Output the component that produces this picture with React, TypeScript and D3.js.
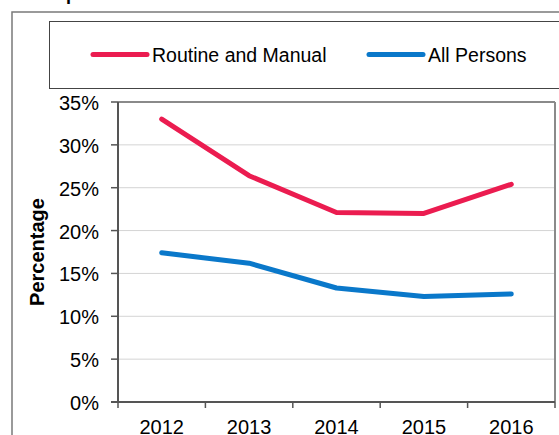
import React from "react";
import * as d3 from "d3";

const years = ["2012", "2013", "2014", "2015", "2016"];
const routineManual = [33.0, 26.4, 22.1, 22.0, 25.4];
const allPersons = [17.4, 16.2, 13.3, 12.3, 12.6];
const yTicks = [0, 5, 10, 15, 20, 25, 30, 35];
const seriesNames = ["Routine and Manual", "All Persons"];
const seriesColors = ["#EB1C50", "#0A78CA"];
const titleText = "Comparison";

const W = 559;
const H = 435;
const plot = { left: 118, right: 555, top: 102, bottom: 402 };
const FONT = "Arial, 'Liberation Sans', sans-serif";

export default function App() {
  const x = d3.scalePoint<string>().domain(years).range([plot.left, plot.right]).padding(0.5);
  const step = x.step();
  const y = d3.scaleLinear().domain([0, 35]).range([plot.bottom, plot.top]);
  const line = d3
    .line<number>()
    .x((_, i) => x(years[i]) as number)
    .y((d) => y(d));
  const series = [routineManual, allPersons];
  const boundaries = d3.range(years.length + 1).map((i) => plot.left + i * step);

  return (
    <svg
      width={W}
      height={H}
      style={{ position: "absolute", left: 0, top: 0, display: "block", background: "#fff" }}
      fontFamily={FONT}
    >
      <rect x={0} y={0} width={W} height={H} fill="#fff" />
      {/* title, cut off above */}
      <text x={26} y={0} fontSize={18} fontWeight="bold" fill="#000">
        {titleText}
      </text>
      {/* outer frame */}
      <rect x={12} y={12} width={W} height={H} fill="none" stroke="#7a7a7a" strokeWidth={1.5} />
      {/* legend box */}
      <rect x={49.5} y={21.5} width={W} height={67} fill="#fff" stroke="#444" strokeWidth={1} />
      {seriesNames.map((name, i) => {
        const lx = i === 0 ? 93 : 369;
        return (
          <g key={name}>
            <line x1={lx} x2={lx + 54} y1={54.5} y2={54.5} stroke={seriesColors[i]} strokeWidth={5} strokeLinecap="round" />
            <text x={lx + 59} y={61.5} fontSize={19.5} fill="#000">
              {name}
            </text>
          </g>
        );
      })}
      {/* gridlines */}
      {yTicks
        .filter((t) => t > 0 && t < 35)
        .map((t) => (
          <line key={t} x1={plot.left} x2={plot.right} y1={y(t)} y2={y(t)} stroke="#d4d4d4" strokeWidth={1} />
        ))}
      {/* plot border top/right */}
      <line x1={plot.left} x2={plot.right} y1={plot.top} y2={plot.top} stroke="#8a8a8a" strokeWidth={2} />
      <line x1={plot.right} x2={plot.right} y1={plot.top} y2={plot.bottom} stroke="#8a8a8a" strokeWidth={2} />
      {/* data lines */}
      {series.map((s, i) => (
        <path
          key={i}
          d={line(s) as string}
          fill="none"
          stroke={seriesColors[i]}
          strokeWidth={5}
          strokeLinecap="round"
          strokeLinejoin="round"
        />
      ))}
      {/* y axis */}
      <line x1={plot.left} x2={plot.left} y1={plot.top} y2={plot.bottom} stroke="#555" strokeWidth={2} />
      {yTicks.map((t) => (
        <g key={t}>
          <line x1={plot.left - 7} x2={plot.left} y1={y(t)} y2={y(t)} stroke="#555" strokeWidth={1.5} />
          <text x={99} y={y(t) + 8} fontSize={20} textAnchor="end" fill="#000">
            {`${t}%`}
          </text>
        </g>
      ))}
      {/* x axis */}
      <line x1={plot.left - 7} x2={plot.right} y1={plot.bottom} y2={plot.bottom} stroke="#555" strokeWidth={2} />
      {boundaries.map((bx, i) => (
        <line key={i} x1={bx} x2={bx} y1={plot.bottom} y2={plot.bottom + 6} stroke="#555" strokeWidth={1.5} />
      ))}
      {years.map((yr) => (
        <text key={yr} x={x(yr)} y={434} fontSize={20} textAnchor="middle" fill="#000">
          {yr}
        </text>
      ))}
      <text
        transform={`translate(44, ${(plot.top + plot.bottom) / 2}) rotate(-90)`}
        textAnchor="middle"
        fontSize={20}
        fontWeight="bold"
        fill="#000"
      >
        Percentage
      </text>
    </svg>
  );
}
